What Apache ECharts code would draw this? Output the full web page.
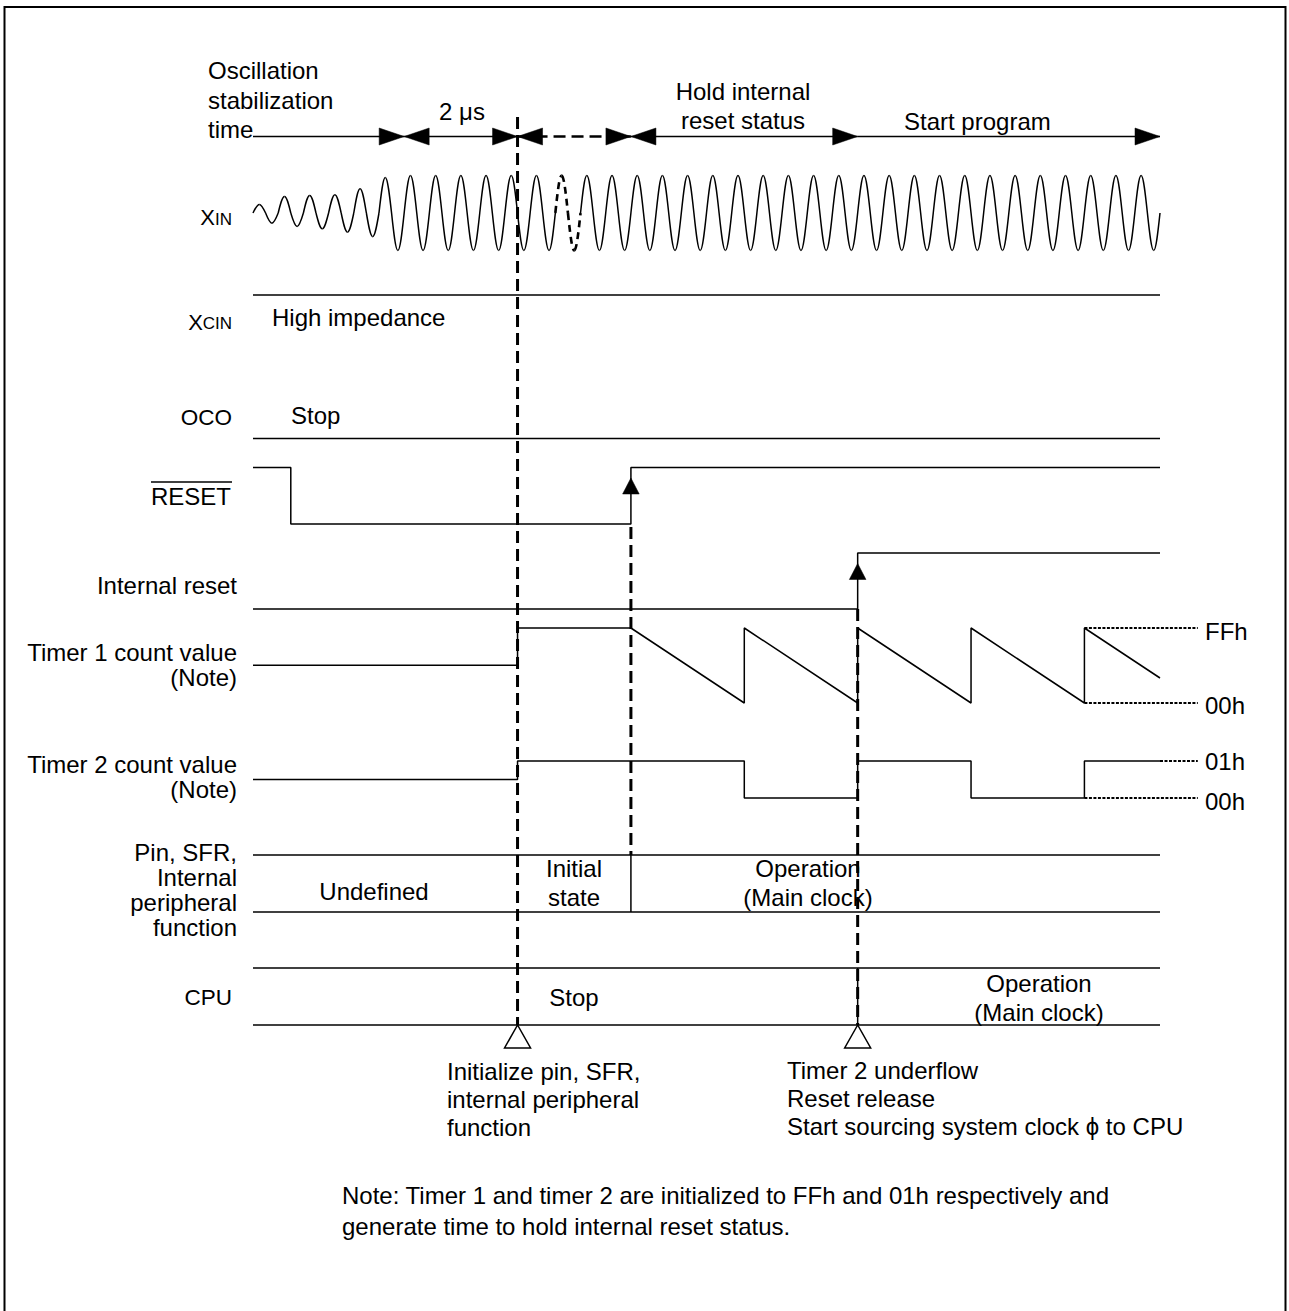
<!DOCTYPE html>
<html><head><meta charset="utf-8">
<script src="https://cdn.jsdelivr.net/npm/echarts@6/dist/echarts.min.js"></script>
<style>html,body{margin:0;padding:0;background:#fff}#c{width:1289px;height:1311px}</style>
</head><body><div id="c"></div>
<script>
// ================= DATA (time axis in XIN clock cycles) =================
// XIN: relative amplitude of each half cycle (positive half first)
const xinHalfCycleAmp = [
  0.23,0.27,0.44,0.36,0.47,0.42,0.49,0.51,0.65,0.63,0.95,1,
  1,1,1,1,1,1,1,1,1,1,1,1,
  1,1,1,1,1,1,1,1,1,1,1,1,
  1,1,1,1,1,1,1,1,1,1,1,1,
  1,1,1,1,1,1,1,1,1,1,1,1,
  1,1,1,1,1,1,1,1,1,1,1,1
];
const xinDashedHalfCycles = [24, 25];
const xinHalfCycleLen = 0.5;

const xcinT = [0, 36];
const ocoT = [0, 36];

const resetT = [0, 1.5, 1.5, 15, 15, 36];
const resetV = [1, 1, 0, 0, 1, 1];

const intResetT = [0, 24, 24, 36];
const intResetV = [0, 0, 1, 1];

const timer1T = [0, 10.5, 10.5, 15, 19.5, 19.5, 24, 24, 28.5, 28.5, 33, 33, 36];
const timer1V = [128, 128, 255, 255, 0, 255, 0, 255, 0, 255, 0, 255, 85];   // count value (00h..FFh)
const timer1RefT = [33, 37.5];
const timer1RefV = [255, 0];
const timer1RefLabels = ['FFh', '00h'];

const timer2T = [0, 10.5, 10.5, 19.5, 19.5, 24, 24, 28.5, 28.5, 33, 33, 36];
const timer2V = [0.5, 0.5, 1, 1, 0, 0, 1, 1, 0, 0, 1, 1];
const timer2RefStartT = [36, 33];
const timer2RefEndT = 37.5;
const timer2RefV = [1, 0];
const timer2RefLabels = ['01h', '00h'];

const busT = [0, 36];
const pinBusSplitT = [15];
const cpuBusSplitT = [24];

const markerT = [10.5, 15, 24];          // dashed vertical event lines
const triangleT = [10.5, 24];            // event triangles under CPU row

const phaseStartT = [0, 6, 10.5, 15, 24];
const phaseEndT   = [6, 10.5, 15, 24, 36];
const phaseLeftArrow  = [0, 1, 1, 1, 0];
const phaseRightArrow = [1, 1, 1, 1, 1];
const phaseDashed     = [0, 0, 1, 0, 0];

// ================= LAYOUT =================
const L = {
  W: 1289, H: 1311, x0: 253, pxPerT: 907 / 36,
  phaseY: 136.5,
  xinC: 213, xinA: 37.5,
  xcinY: 295, ocoY: 438.5,
  reset: [524, 467.5], intReset: [609, 553],
  timer1: [703, 628], timer2: [798, 761],
  pinBus: [855, 912], cpuBus: [968, 1025],
  markerTop: [117, 527, 609], markerBottom: [1025, 855, 1025],
  edgeArrowOffset: 10.5, edgeArrowLen: 16, edgeArrowHalf: 8.3,
  phaseArrowLen: 25, phaseArrowHalf: 8.5,
  triH: 23, triHalf: 13
};
const FONT = '"Liberation Sans", Arial, Helvetica, sans-serif';
const f = (s) => s + 'px ' + FONT;
const lvl = (row, v) => row[0] + (row[1] - row[0]) * v;

// ================= SERIES =================
const BLACK = '#000';
function lineSeries(data, style, z) {
  return { type: 'line', data, symbol: 'none', silent: true, animation: false, z: z || 2,
    lineStyle: Object.assign({ color: BLACK, width: 1.5 }, style || {}) };
}
const series = [];

// XIN waveform
const xinData = xinHalfCycleAmp.map((a, i) => [i * xinHalfCycleLen, (i + 1) * xinHalfCycleLen,
  a * (i % 2 === 0 ? 1 : -1), xinDashedHalfCycles.indexOf(i) >= 0 ? 1 : 0]);
series.push({
  type: 'custom', data: xinData, silent: true, animation: false, z: 3,
  renderItem: function (params, api) {
    const p0 = api.coord([api.value(0), L.xinC]);
    const p1 = api.coord([api.value(1), L.xinC]);
    const A = api.value(2) * L.xinA;
    const dashed = api.value(3) === 1;
    const q = (p1[0] - p0[0]) / 2, c = p0[1], yp = c - A, xm = p0[0] + q;
    const st = { fill: 'none', stroke: BLACK, lineWidth: dashed ? 2.6 : 1.5, lineDash: dashed ? [7, 5] : null };
    return { type: 'group', children: [
      { type: 'bezierCurve', shape: { x1: p0[0], y1: c, cpx1: p0[0] + 0.3261 * q, cpy1: c - 0.5123 * A,
        cpx2: p0[0] + 0.6381 * q, cpy2: yp, x2: xm, y2: yp }, style: st },
      { type: 'bezierCurve', shape: { x1: xm, y1: yp, cpx1: xm + 0.3619 * q, cpy1: yp,
        cpx2: xm + 0.6739 * q, cpy2: c - 0.5123 * A, x2: p1[0], y2: c }, style: st }
    ] };
  }
});

// XCIN / OCO
series.push(lineSeries(xcinT.map(t => [t, L.xcinY])));
series.push(lineSeries(ocoT.map(t => [t, L.ocoY])));
// RESET
series.push(lineSeries(resetT.map((t, i) => [t, lvl(L.reset, resetV[i])])));
// Internal reset
series.push(lineSeries(intResetT.map((t, i) => [t, lvl(L.intReset, intResetV[i])])));
// Timer 1
series.push(lineSeries(timer1T.map((t, i) => [t, lvl(L.timer1, timer1V[i] / 255)])));
timer1RefV.forEach(v => series.push(lineSeries(timer1RefT.map(t => [t, lvl(L.timer1, v / 255)]), { width: 2, type: [3, 1.5] })));
// Timer 2
series.push(lineSeries(timer2T.map((t, i) => [t, lvl(L.timer2, timer2V[i])])));
timer2RefV.forEach((v, k) => series.push(lineSeries([[timer2RefStartT[k], lvl(L.timer2, v)], [timer2RefEndT, lvl(L.timer2, v)]], { width: 2, type: [3, 1.5] })));
// Buses
[L.pinBus, L.cpuBus].forEach(bus => {
  series.push(lineSeries(busT.map(t => [t, bus[0]])));
  series.push(lineSeries(busT.map(t => [t, bus[1]])));
});
pinBusSplitT.forEach(t => series.push(lineSeries([[t, L.pinBus[0]], [t, L.pinBus[1]]])));
cpuBusSplitT.forEach(t => series.push(lineSeries([[t, L.cpuBus[0]], [t, L.cpuBus[1]]])));
// Dashed event markers
markerT.forEach((t, k) => series.push(lineSeries([[t, L.markerTop[k]], [t, L.markerBottom[k]]], { width: 3, type: [12, 6] }, 4)));
// Phase row lines
phaseStartT.forEach((t, k) => series.push(lineSeries([[t, L.phaseY], [phaseEndT[k], L.phaseY]],
  phaseDashed[k] ? { width: 2.6, type: [12, 6] } : { width: 1.5 })));

// Arrowheads: [t, y, dir]  dir 0=up 1=left 2=right
const arrowData = [
  [resetT[3], lvl(L.reset, 1) + L.edgeArrowOffset, 0],
  [intResetT[1], lvl(L.intReset, 1) + L.edgeArrowOffset, 0]
];
phaseStartT.forEach((t, k) => {
  if (phaseLeftArrow[k]) arrowData.push([t, L.phaseY, 1]);
  if (phaseRightArrow[k]) arrowData.push([phaseEndT[k], L.phaseY, 2]);
});
series.push({
  type: 'custom', data: arrowData, silent: true, animation: false, z: 5,
  renderItem: function (params, api) {
    const p = api.coord([api.value(0), api.value(1)]);
    const d = api.value(2);
    let pts;
    if (d === 0) pts = [[p[0], p[1]], [p[0] - L.edgeArrowHalf, p[1] + L.edgeArrowLen], [p[0] + L.edgeArrowHalf, p[1] + L.edgeArrowLen]];
    else if (d === 1) pts = [[p[0], p[1]], [p[0] + L.phaseArrowLen, p[1] - L.phaseArrowHalf], [p[0] + L.phaseArrowLen, p[1] + L.phaseArrowHalf]];
    else pts = [[p[0], p[1]], [p[0] - L.phaseArrowLen, p[1] - L.phaseArrowHalf], [p[0] - L.phaseArrowLen, p[1] + L.phaseArrowHalf]];
    return { type: 'polygon', shape: { points: pts }, style: { fill: BLACK, stroke: BLACK, lineWidth: 0.5 } };
  }
});
// Hollow event triangles
series.push({
  type: 'custom', data: triangleT.map(t => [t, L.cpuBus[1]]), silent: true, animation: false, z: 5,
  renderItem: function (params, api) {
    const p = api.coord([api.value(0), api.value(1)]);
    return { type: 'polygon', shape: { points: [[p[0], p[1]], [p[0] - L.triHalf, p[1] + L.triH], [p[0] + L.triHalf, p[1] + L.triH]] },
      style: { fill: '#fff', stroke: BLACK, lineWidth: 1.5 } };
  }
});

// ================= TEXT =================
function txt(text, x, y, align, size) {
  return { type: 'text', x: x, y: y, silent: true, z: 10,
    style: { text: text, font: f(size || 24), fill: BLACK, textAlign: align || 'left', textVerticalAlign: 'middle' } };
}
const texts = [
  txt('Oscillation', 208, 70), txt('stabilization', 208, 100), txt('time', 208, 129),
  txt('2 \u03bcs', 462, 111, 'center'),
  txt('Hold internal', 743, 91, 'center'), txt('reset status', 743, 120, 'center'),
  txt('Start program', 904, 121),
  // left labels
  txt('X', 215, 217, 'right', 22), txt('IN', 232, 219, 'right', 17),
  txt('X', 203, 322, 'right', 22), txt('CIN', 232, 323.7, 'right', 17),
  txt('OCO', 232, 417, 'right', 22.5),
  txt('RESET', 231, 496, 'right', 24),
  txt('Internal reset', 237, 585, 'right'),
  txt('Timer 1 count value', 237, 652, 'right'), txt('(Note)', 237, 677, 'right'),
  txt('Timer 2 count value', 237, 764, 'right'), txt('(Note)', 237, 789, 'right'),
  txt('Pin, SFR,', 237, 852, 'right'), txt('Internal', 237, 877, 'right'),
  txt('peripheral', 237, 902, 'right'), txt('function', 237, 927, 'right'),
  txt('CPU', 232, 997, 'right', 22.5),
  // in-diagram
  txt('High impedance', 272, 317),
  txt('Stop', 291, 415),
  txt('Undefined', 374, 891, 'center'),
  txt('Initial', 574, 868, 'center'), txt('state', 574, 897, 'center'),
  txt('Operation', 808, 868, 'center'), txt('(Main clock)', 808, 897, 'center'),
  txt('Stop', 574, 997, 'center'),
  txt('Operation', 1039, 983, 'center'), txt('(Main clock)', 1039, 1012, 'center'),
  txt(timer1RefLabels[0], 1205, 631), txt(timer1RefLabels[1], 1205, 705),
  txt(timer2RefLabels[0], 1205, 761), txt(timer2RefLabels[1], 1205, 801),
  // bottom annotations
  txt('Initialize pin, SFR,', 447, 1071), txt('internal peripheral', 447, 1099), txt('function', 447, 1127),
  txt('Timer 2 underflow', 787, 1070), txt('Reset release', 787, 1098),
  txt('Start sourcing system clock \u03d5 to CPU', 787, 1126),
  txt('Note: Timer 1 and timer 2 are initialized to FFh and 01h respectively and', 342, 1195),
  txt('generate time to hold internal reset status.', 342, 1226)
];
const graphics = texts.concat([
  { type: 'line', silent: true, shape: { x1: 151, y1: 482, x2: 232, y2: 482 }, style: { stroke: BLACK, lineWidth: 1.5 } },
  { type: 'rect', silent: true, shape: { x: 4.5, y: 7, width: 1281, height: 1400 }, style: { fill: 'none', stroke: BLACK, lineWidth: 2 } }
]);

const chart = echarts.init(document.getElementById('c'), null, { renderer: 'svg', width: L.W, height: L.H });
chart.setOption({
  animation: false,
  backgroundColor: '#fff',
  grid: { left: 0, right: 0, top: 0, bottom: 0, containLabel: false },
  xAxis: { type: 'value', min: -L.x0 / L.pxPerT, max: (L.W - L.x0) / L.pxPerT, show: false },
  yAxis: { type: 'value', min: 0, max: L.H, inverse: true, show: false },
  series: series,
  graphic: graphics
});
</script></body></html>
